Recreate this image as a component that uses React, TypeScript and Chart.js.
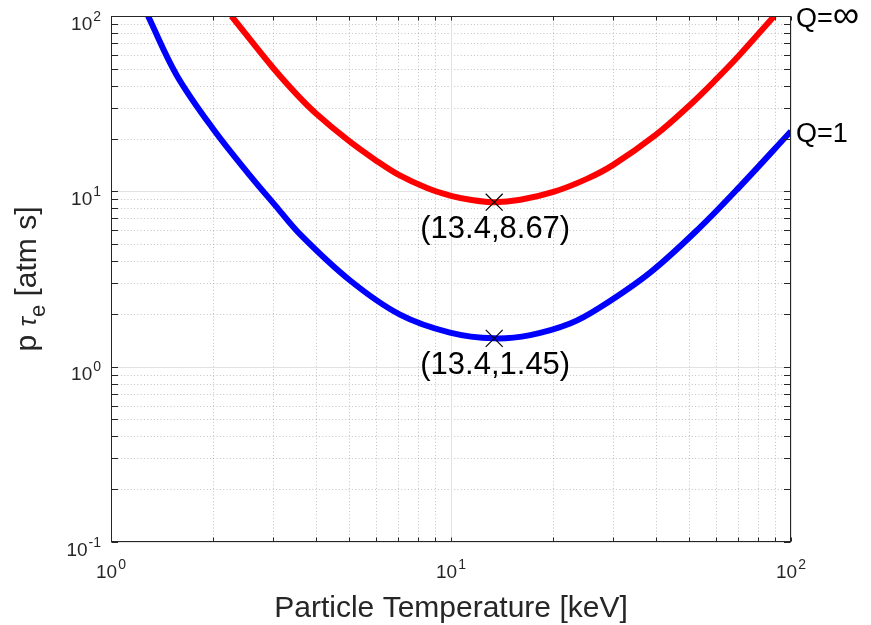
import React, { useEffect, useRef } from 'react';
import { Chart, registerables } from 'chart.js';

Chart.register(...registerables);

// ---- data ----
const qInfT = [2.26, 3.0, 3.5, 4.0, 5.0, 6.0, 7.0, 8.5, 10, 11.5, 13.4, 16, 20, 25, 30, 40, 50, 60, 70, 89.3];
const qInfP = [100, 50.5, 36.1, 27.9, 19.44, 15.06, 12.44, 10.44, 9.43, 8.93, 8.67, 8.95, 9.92, 11.74, 14.16, 20.98, 30.6, 43.2, 58.9, 100];
const q1T = [1.285, 1.56, 2.0, 2.56, 3.04, 3.6, 5.05, 7.08, 9.93, 13.4, 17.1, 22.4, 27.4, 38.5, 54, 70.8, 100];
const q1P = [100, 46.0, 22.6, 12.34, 8.32, 5.68, 3.1, 1.98, 1.564, 1.45, 1.514, 1.761, 2.174, 3.44, 6.23, 10.68, 22.03];
const minT = [13.4, 13.4];
const minP = [8.67, 1.45];
const minLabels = ['(13.4,8.67)', '(13.4,1.45)'];
const seriesNames = ['Q=', 'Q='];
const seriesSuffix = ['\u221E', '1'];
const seriesColors = ['#ff0000', '#0000ff'];
const xDecades = [0, 1, 2];
const yDecades = [-1, 0, 1, 2];
const xTitle = 'Particle Temperature [keV]';

const FONT = '"Liberation Sans", Arial, Helvetica, sans-serif';
const INK = '#262626';

function tickSets(decs: number[]) {
  const major = decs.map((e) => Math.pow(10, e));
  const minor: number[] = [];
  for (let i = 0; i < decs.length - 1; i++) {
    for (let m = 2; m <= 9; m++) minor.push(m * Math.pow(10, decs[i]));
  }
  return { major, minor };
}

function drawPow(ctx: CanvasRenderingContext2D, exp: number, x: number, baseY: number, align: 'center' | 'right') {
  ctx.font = `19px ${FONT}`;
  const wb = ctx.measureText('10').width;
  ctx.font = `14px ${FONT}`;
  const es = String(exp);
  const we = ctx.measureText(es).width;
  const total = wb + 1 + we;
  const left = align === 'right' ? x - total : x - total / 2;
  ctx.textAlign = 'left';
  ctx.textBaseline = 'alphabetic';
  ctx.font = `19px ${FONT}`;
  ctx.fillText('10', left, baseY);
  ctx.font = `14px ${FONT}`;
  ctx.fillText(es, left + wb + 1, baseY - 9);
}

const decor = {
  id: 'decor',
  beforeDatasetsDraw(chart: any) {
    const { ctx, chartArea: a, scales } = chart;
    const xs = scales.x;
    const ys = scales.y;
    const xt = tickSets(xDecades);
    const yt = tickSets(yDecades);
    ctx.save();
    ctx.lineWidth = 1;
    ctx.strokeStyle = 'rgba(38,38,38,0.28)';
    ctx.setLineDash([1, 2.3]);
    ctx.beginPath();
    xt.minor.forEach((v) => {
      const p = Math.round(xs.getPixelForValue(v)) + 0.5;
      ctx.moveTo(p, a.top);
      ctx.lineTo(p, a.bottom);
    });
    yt.minor.forEach((v) => {
      const p = Math.round(ys.getPixelForValue(v)) + 0.5;
      ctx.moveTo(a.left, p);
      ctx.lineTo(a.right, p);
    });
    ctx.stroke();
    ctx.setLineDash([]);
    ctx.strokeStyle = '#e2e2e2';
    ctx.beginPath();
    xt.major.forEach((v) => {
      const p = Math.round(xs.getPixelForValue(v)) + 0.5;
      ctx.moveTo(p, a.top);
      ctx.lineTo(p, a.bottom);
    });
    yt.major.forEach((v) => {
      const p = Math.round(ys.getPixelForValue(v)) + 0.5;
      ctx.moveTo(a.left, p);
      ctx.lineTo(a.right, p);
    });
    ctx.stroke();
    ctx.restore();
  },
  afterDraw(chart: any) {
    const { ctx, chartArea: a, scales } = chart;
    const xs = scales.x;
    const ys = scales.y;
    const xt = tickSets(xDecades);
    const yt = tickSets(yDecades);
    const L = Math.round(a.left) + 0.5;
    const R = Math.round(a.right) - 0.5;
    const T = Math.round(a.top) + 0.5;
    const B = Math.round(a.bottom) - 0.5;
    ctx.save();
    ctx.strokeStyle = INK;
    ctx.lineWidth = 1;
    ctx.strokeRect(L, T, R - L, B - T);
    ctx.beginPath();
    [...xt.major, ...xt.minor].forEach((v) => {
      const p = Math.round(xs.getPixelForValue(v)) + 0.5;
      ctx.moveTo(p, B);
      ctx.lineTo(p, B - 4);
      ctx.moveTo(p, T);
      ctx.lineTo(p, T + 4);
    });
    [...yt.major, ...yt.minor].forEach((v) => {
      const p = Math.round(ys.getPixelForValue(v)) + 0.5;
      ctx.moveTo(L, p);
      ctx.lineTo(L + 6.5, p);
      ctx.moveTo(R, p);
      ctx.lineTo(R - 6.5, p);
    });
    ctx.stroke();

    ctx.fillStyle = INK;
    xDecades.forEach((e) => {
      drawPow(ctx, e, xs.getPixelForValue(Math.pow(10, e)), 578, 'center');
    });
    yDecades.forEach((e) => {
      drawPow(ctx, e, 101, ys.getPixelForValue(Math.pow(10, e)) + 13.5, 'right');
    });

    ctx.font = `30px ${FONT}`;
    ctx.textAlign = 'center';
    ctx.textBaseline = 'alphabetic';
    ctx.fillText(xTitle, (a.left + a.right) / 2, 617);

    const segs = [
      { t: 'p ', f: `30px ${FONT}`, dy: 0 },
      { t: '\u03C4', f: `italic 25px ${FONT}`, dy: 0 },
      { t: 'e', f: `22px ${FONT}`, dy: 9 },
      { t: ' [atm s]', f: `30px ${FONT}`, dy: 0 },
    ];
    let total = 0;
    const widths = segs.map((s) => {
      ctx.font = s.f;
      const w = ctx.measureText(s.t).width;
      total += w;
      return w;
    });
    ctx.save();
    ctx.translate(36, (a.top + a.bottom) / 2);
    ctx.rotate(-Math.PI / 2);
    ctx.textAlign = 'left';
    let cx = -total / 2;
    segs.forEach((s, i) => {
      ctx.font = s.f;
      ctx.fillText(s.t, cx, s.dy);
      cx += widths[i];
    });
    ctx.restore();

    const mMeta = chart.getDatasetMeta(0);
    ctx.fillStyle = '#000';
    ctx.font = `31px ${FONT}`;
    ctx.textAlign = 'center';
    mMeta.data.forEach((pt: any, i: number) => {
      ctx.fillText(minLabels[i], pt.x + 1, pt.y + 35.5);
    });

    ctx.textAlign = 'left';
    [1, 2].forEach((di, i) => {
      const meta = chart.getDatasetMeta(di);
      const last = meta.data[meta.data.length - 1];
      ctx.font = `27px ${FONT}`;
      const w = ctx.measureText(seriesNames[i]).width;
      ctx.fillText(seriesNames[i], 796, last.y + 10.5);
      if (seriesSuffix[i] === '\u221E') {
        ctx.font = `37px ${FONT}`;
        ctx.fillText(seriesSuffix[i], 796 + w, last.y + 11);
      } else {
        ctx.fillText(seriesSuffix[i], 796 + w, last.y + 10.5);
      }
    });
    ctx.restore();
  },
};

export default function App() {
  const ref = useRef<HTMLCanvasElement>(null);
  useEffect(() => {
    const c = ref.current!;
    const lineCommon = {
      borderWidth: 6,
      pointRadius: 0,
      tension: 0.35,
      borderCapStyle: 'butt',
      borderJoinStyle: 'round',
      clip: 0,
    };
    const chart = new Chart(c, {
      type: 'line',
      data: {
        datasets: [
          {
            label: 'min',
            data: minT.map((x, i) => ({ x, y: minP[i] })),
            showLine: false,
            pointStyle: 'crossRot',
            pointRadius: 12,
            pointBorderWidth: 1.2,
            pointBorderColor: '#000',
            pointBackgroundColor: '#000',
            borderColor: '#000',
            order: 0,
            clip: false,
          } as any,
          {
            ...lineCommon,
            label: seriesNames[0] + seriesSuffix[0],
            data: qInfT.map((x, i) => ({ x, y: qInfP[i] })),
            borderColor: seriesColors[0],
            order: 1,
          } as any,
          {
            ...lineCommon,
            label: seriesNames[1] + seriesSuffix[1],
            data: q1T.map((x, i) => ({ x, y: q1P[i] })),
            borderColor: seriesColors[1],
            order: 2,
          } as any,
        ],
      },
      options: {
        responsive: false,
        animation: false,
        devicePixelRatio: 1,
        events: [],
        layout: { padding: { left: 0, top: 16, right: 80, bottom: 0 } },
        plugins: { legend: { display: false }, tooltip: { enabled: false } },
        scales: {
          x: {
            type: 'logarithmic',
            min: 1,
            max: 100,
            grid: { display: false },
            border: { display: false },
            ticks: { display: false },
            afterFit: (s: any) => {
              s.height = 83;
            },
          },
          y: {
            type: 'logarithmic',
            min: 0.1,
            max: 100,
            grid: { display: false },
            border: { display: false },
            ticks: { display: false },
            afterFit: (s: any) => {
              s.width = 111;
            },
          },
        },
      } as any,
      plugins: [decor],
    });
    return () => chart.destroy();
  }, []);
  return (
    <div style={{ position: 'absolute', left: 0, top: 0, width: 871, height: 625, background: '#fff' }}>
      <canvas ref={ref} width={871} height={625} style={{ display: 'block' }} />
    </div>
  );
}
